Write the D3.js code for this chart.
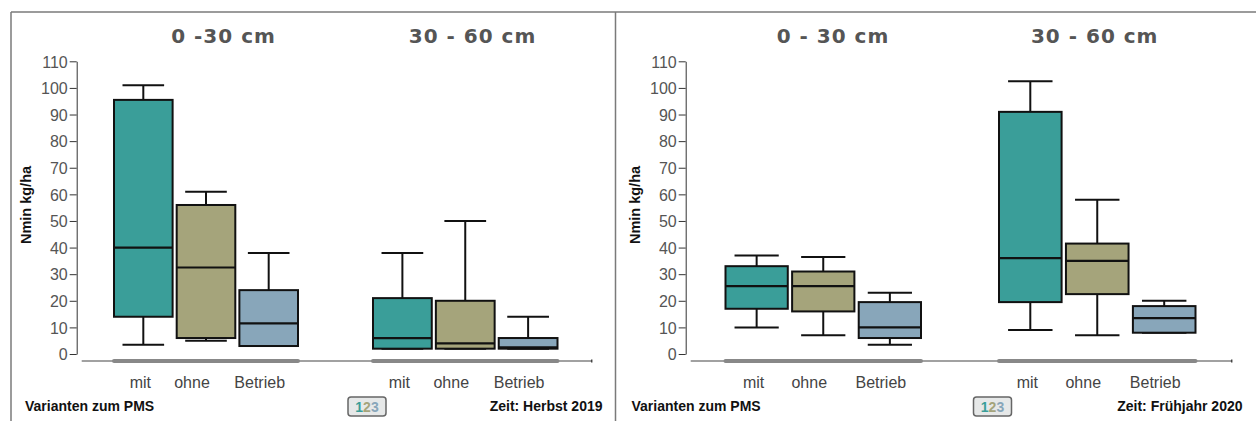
<!DOCTYPE html>
<html>
<head>
<meta charset="utf-8">
<script src="https://cdn.jsdelivr.net/npm/d3@7"></script>
<style>
  html, body { margin: 0; padding: 0; background: #fff; }
  svg { display: block; }
  .tick text { font-family: "Liberation Sans", Arial, sans-serif; font-size: 16px; fill: #555; }
</style>
</head>
<body>
<svg id="chart" width="1256" height="421"></svg>
<script>
// Nmin (kg/ha) box plots — each row: [min, Q1, median, Q3, max] for mit / ohne / Betrieb
const varianten = ["mit", "ohne", "Betrieb"];
const yTickValues = [0, 10, 20, 30, 40, 50, 60, 70, 80, 90, 100, 110];

const herbst2019_0_30 = [
  [3.5, 14, 40, 95.5, 101],
  [5, 6, 32.5, 56, 61],
  [3, 3, 11.5, 24, 38]
];
const herbst2019_30_60 = [
  [2, 2, 6, 21, 38],
  [2, 2, 4, 20, 50],
  [2, 2, 2.5, 6, 14]
];
const fruehjahr2020_0_30 = [
  [10, 17, 25.5, 33, 37],
  [7, 16, 25.5, 31, 36.5],
  [3.5, 6, 10, 19.5, 23]
];
const fruehjahr2020_30_60 = [
  [9, 19.5, 36, 91, 102.5],
  [7, 22.5, 35, 41.5, 58],
  [8, 8, 13.5, 18, 20]
];

const titlesHerbst = ["0 -30 cm", "30 - 60 cm"];
const titlesFruehjahr = ["0 - 30 cm", "30 - 60 cm"];
const zeitLabels = ["Zeit: Herbst 2019", "Zeit: Frühjahr 2020"];
const colors = ["#3a9e99", "#a5a47b", "#88a6ba"];

// panel layout
const panels = [
  { axisX: 76.7, axisEnd: 591.7, groups: [[114, 298], [373, 557.5]],
    titles: titlesHerbst, data: [herbst2019_0_30, herbst2019_30_60],
    titleX: [223.5, 472.5], yLabelX: 31, variantX: 25, badgeX: 348, zeitRight: 602.5, zeit: zeitLabels[0] },
  { axisX: 685.7, axisEnd: 1231.7, groups: [[725.5, 921], [999, 1195.5]],
    titles: titlesFruehjahr, data: [fruehjahr2020_0_30, fruehjahr2020_30_60],
    titleX: [833, 1094.7], yLabelX: 640, variantX: 631.5, badgeX: 973.5, zeitRight: 1242.5, zeit: zeitLabels[1] }
];
const labelShift = [-3, -14, -9];

const svg = d3.select("#chart");

// frame
const frame = svg.append("g").attr("stroke", "#7a7a7a").attr("stroke-width", 1.5).attr("fill", "none");
frame.append("line").attr("x1", 11).attr("x2", 1256).attr("y1", 12).attr("y2", 12);
frame.append("line").attr("x1", 11).attr("x2", 11).attr("y1", 12).attr("y2", 421);
frame.append("line").attr("x1", 615.5).attr("x2", 615.5).attr("y1", 12).attr("y2", 421);

const y = d3.scaleLinear().domain([0, 110]).range([354, 61.3]);
const axisY = 361;

panels.forEach(p => {
  const g = svg.append("g");

  // y axis
  const ax = g.append("g")
    .attr("transform", `translate(${p.axisX},0)`)
    .call(d3.axisLeft(y).tickValues(yTickValues).tickSize(7).tickSizeOuter(0).tickPadding(2));
  ax.select(".domain").attr("stroke", "#333");
  ax.selectAll(".tick line").attr("stroke", "#333");
  ax.selectAll(".tick text").attr("dy", "0.36em");

  g.append("text")
    .attr("transform", `translate(${p.yLabelX},${205}) rotate(-90)`)
    .attr("text-anchor", "middle")
    .attr("font-family", "Liberation Sans, Arial, sans-serif")
    .attr("font-weight", "bold").attr("font-size", 14.5).attr("fill", "#111")
    .text("Nmin kg/ha");

  // x baseline
  g.append("line")
    .attr("x1", p.axisX + 5).attr("x2", p.axisEnd)
    .attr("y1", axisY).attr("y2", axisY)
    .attr("stroke", "#444").attr("stroke-width", 1.2);
  g.append("line")
    .attr("x1", p.axisEnd).attr("x2", p.axisEnd)
    .attr("y1", axisY - 1.5).attr("y2", axisY + 1.5)
    .attr("stroke", "#444").attr("stroke-width", 1.5);

  p.groups.forEach((range, gi) => {
    const x = d3.scaleBand().domain(varianten).range(range).paddingInner(0.065);
    const bw = x.bandwidth();
    const stats = p.data[gi];

    // grey group bar on the baseline
    g.append("line")
      .attr("x1", range[0]).attr("x2", range[1])
      .attr("y1", axisY).attr("y2", axisY)
      .attr("stroke", "#888").attr("stroke-width", 4).attr("stroke-linecap", "round");

    g.append("text")
      .attr("x", p.titleX[gi]).attr("y", 43)
      .attr("text-anchor", "middle")
      .attr("font-family", "DejaVu Sans, Verdana, sans-serif")
      .attr("font-weight", "bold").attr("font-size", 20)
      .attr("letter-spacing", 1).attr("fill", "#555")
      .text(p.titles[gi]);

    const boxes = g.selectAll(null).data(varianten).enter().append("g");
    boxes.each(function (v, i) {
      const s = stats[i];
      const cx = x(v) + bw / 2;
      const sel = d3.select(this);
      const capW = bw * 0.71;
      // whiskers
      sel.append("line").attr("x1", cx).attr("x2", cx).attr("y1", y(s[4])).attr("y2", y(s[3]))
        .attr("stroke", "#111").attr("stroke-width", 2);
      sel.append("line").attr("x1", cx).attr("x2", cx).attr("y1", y(s[1])).attr("y2", y(s[0]))
        .attr("stroke", "#111").attr("stroke-width", 2);
      sel.append("line").attr("x1", cx - capW / 2).attr("x2", cx + capW / 2).attr("y1", y(s[4])).attr("y2", y(s[4]))
        .attr("stroke", "#111").attr("stroke-width", 2);
      sel.append("line").attr("x1", cx - capW / 2).attr("x2", cx + capW / 2).attr("y1", y(s[0])).attr("y2", y(s[0]))
        .attr("stroke", "#111").attr("stroke-width", 2);
      // box
      sel.append("rect")
        .attr("x", x(v)).attr("width", bw)
        .attr("y", y(s[3])).attr("height", y(s[1]) - y(s[3]))
        .attr("fill", colors[i]).attr("stroke", "#111").attr("stroke-width", 2);
      // median
      sel.append("line").attr("x1", x(v)).attr("x2", x(v) + bw).attr("y1", y(s[2])).attr("y2", y(s[2]))
        .attr("stroke", "#111").attr("stroke-width", 2.2);
      // category label
      sel.append("text")
        .attr("x", cx + labelShift[i]).attr("y", 388)
        .attr("text-anchor", "middle")
        .attr("font-family", "Liberation Sans, Arial, sans-serif")
        .attr("font-size", 16).attr("fill", "#444")
        .text(v);
    });
  });

  g.append("text")
    .attr("x", p.variantX).attr("y", 410.5)
    .attr("font-family", "Liberation Sans, Arial, sans-serif")
    .attr("font-weight", "bold").attr("font-size", 14).attr("fill", "#111")
    .text("Varianten zum PMS");

  g.append("text")
    .attr("x", p.zeitRight).attr("y", 410.5)
    .attr("text-anchor", "end")
    .attr("font-family", "Liberation Sans, Arial, sans-serif")
    .attr("font-weight", "bold").attr("font-size", 14).attr("fill", "#111")
    .text(p.zeit);

  // small "123" badge
  const b = g.append("g").attr("transform", `translate(${p.badgeX},397)`);
  b.append("rect").attr("width", 38).attr("height", 19).attr("rx", 3)
    .attr("fill", "#e6e8e8").attr("stroke", "#666").attr("stroke-width", 1.5);
  const bt = b.append("text").attr("x", 19).attr("y", 14.5).attr("text-anchor", "middle")
    .attr("font-family", "Liberation Sans, Arial, sans-serif")
    .attr("font-weight", "bold").attr("font-size", 14);
  ["1", "2", "3"].forEach((d, i) => bt.append("tspan").attr("fill", colors[i]).text(d));
});
</script>
</body>
</html>
